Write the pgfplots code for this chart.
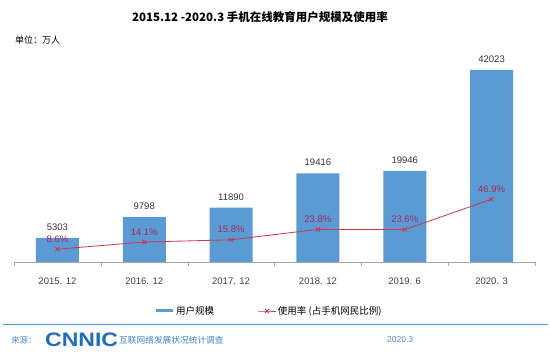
\documentclass[border=0pt]{standalone}
\usepackage{pgfplots}
\pgfplotsset{compat=1.18}
\usepackage{fontspec}
\setmainfont{Liberation Sans}
\newfontfamily\cjk{Noto Sans CJK SC}
\definecolor{barblue}{RGB}{91,155,213}
\definecolor{linered}{RGB}{200,55,75}
\definecolor{pctcol}{RGB}{165,40,90}
\definecolor{footblue}{RGB}{30,110,190}
\definecolor{footline}{RGB}{90,150,210}
\begin{document}
\begin{tikzpicture}
\fill[white] (0pt,0pt) rectangle (550pt,358pt);
\node[font=\cjk\bfseries\fontsize{11.5}{12}\selectfont] at (260pt,341pt) {2015.12 -2020.3 手机在线教育用户规模及使用率};
\node[anchor=west, font=\cjk\fontsize{9}{10}\selectfont, inner sep=0] at (15pt,318pt) {单位：万人};

\begin{axis}[at={(14pt,96pt)}, anchor=south west, scale only axis, width=521pt, height=200pt,
  xmin=-0.5, xmax=5.5, ymin=0, ymax=43770,
  axis x line*=bottom, axis y line=none,
  x axis line style={-, gray!70},
  xtick={0,...,5}, xticklabels={2015. 12,2016. 12,2017. 12,2018. 12,2019. 6,2020. 3},
  minor xtick={-0.5,0.5,...,5.5},
  major tick length=0pt, minor tick length=4pt, tick align=outside,
  every minor tick/.style={gray!70},
  xticklabel style={font=\fontsize{9.5}{10}\selectfont, yshift=-12pt, text=black!75},
  ybar, bar width=43pt,
  /pgf/number format/1000 sep={},
  /pgf/number format/assume math mode=true,
  nodes near coords,
  every node near coord/.append style={font=\fontsize{9.5}{10}\selectfont, text=black!80, yshift=4pt},
  clip=false]
\addplot[fill=barblue, draw=none] coordinates {(0,5303) (1,9798) (2,11890) (3,19416) (4,19946) (5,42023)};
\end{axis}

\begin{axis}[at={(14pt,96pt)}, anchor=south west, scale only axis, width=521pt, height=200pt,
  xmin=-0.5, xmax=5.5, ymin=-1.2, ymax=152, hide axis, clip=false,
  /pgf/number format/assume math mode=true,
  nodes near coords={\pgfmathprintnumber[fixed,fixed zerofill,precision=1]{\pgfplotspointmeta}\%},
  every node near coord/.append style={font=\fontsize{9.5}{10}\selectfont, text=pctcol, yshift=3pt},
  legend style={at={(0.489,-0.245)}, anchor=center, draw=none, fill=none, legend columns=2,
    font=\cjk\fontsize{9.5}{10}\selectfont,
    /tikz/every even column/.append style={column sep=42pt}}]
\addlegendimage{line legend, barblue, line width=3pt}
\addlegendentry{用户规模}
\addplot[linered, line width=0.8pt, mark=x, mark size=3pt] coordinates {(0,8.6) (1,14.1) (2,15.8) (3,23.8) (4,23.6) (5,46.9)};
\addlegendentry{使用率 (占手机网民比例)}
\end{axis}

\draw[footline, line width=0.8pt] (3pt,34pt) -- (548pt,34pt);
\node[anchor=west, font=\cjk\fontsize{8.5}{9}\selectfont, text=footblue!80, inner sep=0] at (11pt,18pt) {来源：};
\node[anchor=west, font=\bfseries\fontsize{19.5}{20}\selectfont, text=footblue, xscale=1.18, inner sep=0] at (45pt,18pt) {CNNIC};
\node[anchor=west, font=\cjk\fontsize{8.7}{9}\selectfont, text=footblue!85, inner sep=0] at (119pt,18pt) {互联网络发展状况统计调查};
\node[anchor=west, font=\fontsize{8.5}{9}\selectfont, text=footblue!80, inner sep=0] at (387pt,18pt) {2020.3};
\end{tikzpicture}
\end{document}
